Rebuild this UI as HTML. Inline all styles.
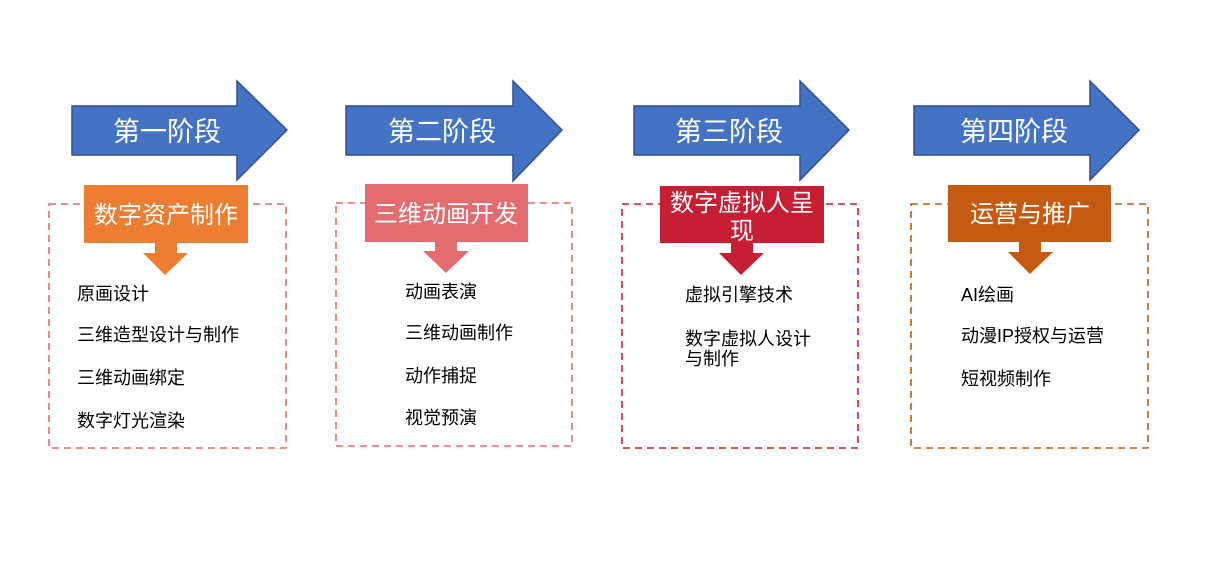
<!DOCTYPE html>
<html><head><meta charset="utf-8"><style>
html,body{margin:0;padding:0;background:#fff;}
svg{display:block;}
text{font-family:"Liberation Sans","Noto Sans CJK SC",sans-serif;}
.h{fill:#fff;font-size:27px;}
.l{fill:#fff;font-size:24px;}
.t{fill:#000;font-size:18px;}
</style></head><body>
<svg width="1218" height="580" viewBox="0 0 1218 580" xmlns="http://www.w3.org/2000/svg">
<g fill="#4472C4" stroke="#2F528F" stroke-width="1.5">
<polygon points="72,106 237,106 237,81 287,130 237,180 237,155 72,155"/>
<polygon points="346,106 513,106 513,81 562,130 513,181 513,155 346,155"/>
<polygon points="634,106 800,106 800,81 849,130 800,180 800,155 634,155"/>
<polygon points="914,106 1090,106 1090,81 1139,130 1090,180 1090,155 914,155"/>
</g>
<text class="h" x="167" y="141" text-anchor="middle">第一阶段</text>
<text class="h" x="442" y="141" text-anchor="middle">第二阶段</text>
<text class="h" x="729" y="141" text-anchor="middle">第三阶段</text>
<text class="h" x="1014" y="141" text-anchor="middle">第四阶段</text>

<g fill="none" stroke-width="1.6" stroke-dasharray="7,5">
<rect x="49" y="204" width="237" height="244" stroke="#E46C6F"/>
<rect x="336" y="203" width="236" height="243" stroke="#E46C6F"/>
<rect x="622" y="204" width="236" height="244" stroke="#C81E33"/>
<rect x="911" y="204" width="237" height="244" stroke="#C55A11"/>
</g>

<rect x="84" y="185" width="164" height="58" fill="#ED7D31"/>
<polygon points="155,243 177,243 177,253 188,253 165,275 143,253 155,253" fill="#ED7D31"/>
<text class="l" x="166" y="223" text-anchor="middle">数字资产制作</text>

<rect x="365" y="184" width="163" height="58" fill="#E46C6F"/>
<polygon points="435,242 457,242 457,251 469,251 446,273 423,251 435,251" fill="#E46C6F"/>
<text class="l" x="446" y="222" text-anchor="middle">三维动画开发</text>

<rect x="660" y="186" width="164" height="57" fill="#C81E33"/>
<polygon points="731,243 753,243 753,253 764,253 741,275 719,253 731,253" fill="#C81E33"/>
<text class="l" x="742" y="211" text-anchor="middle">数字虚拟人呈</text>
<text class="l" x="742" y="239" text-anchor="middle">现</text>

<rect x="948" y="185" width="163" height="57" fill="#C55A11"/>
<polygon points="1019,242 1041,242 1041,252 1053,252 1030,274 1008,252 1019,252" fill="#C55A11"/>
<text class="l" x="1030" y="222" text-anchor="middle">运营与推广</text>

<text class="t" x="77" y="300">原画设计</text>
<text class="t" x="77" y="341">三维造型设计与制作</text>
<text class="t" x="77" y="384">三维动画绑定</text>
<text class="t" x="77" y="427">数字灯光渲染</text>

<text class="t" x="405" y="298">动画表演</text>
<text class="t" x="405" y="339">三维动画制作</text>
<text class="t" x="405" y="382">动作捕捉</text>
<text class="t" x="405" y="424">视觉预演</text>

<text class="t" x="685" y="301">虚拟引擎技术</text>
<text class="t" x="685" y="345">数字虚拟人设计</text>
<text class="t" x="685" y="365">与制作</text>

<text class="t" x="961" y="301">AI绘画</text>
<text class="t" x="961" y="342">动漫IP授权与运营</text>
<text class="t" x="961" y="385">短视频制作</text>
</svg>
</body></html>
